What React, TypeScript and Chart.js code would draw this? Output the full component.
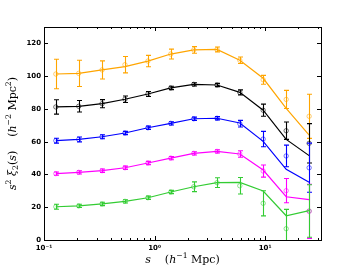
import React, { useEffect, useRef } from "react";
import { Chart, registerables } from "chart.js";

Chart.register(...registerables);

// separations s (h^-1 Mpc)
const sValues = [0.128, 0.206, 0.335, 0.54, 0.87, 1.4, 2.26, 3.67, 5.9, 9.6, 15.5, 25];

const orangeModel = [101.3, 101.7, 103.8, 105.8, 109.2, 113.5, 116.0, 116.3, 109.7, 98.7, 80.4, 64.0];
const orangeData = [101.3, 101.7, 103.8, 107.0, 109.2, 113.5, 116.0, 116.3, 109.7, 97.8, 85.8, 75.5];
const orangeErr = [9, 8, 5.5, 5, 3.5, 3, 2, 1.5, 2, 2.7, 5.5, 13.5];

const blackModel = [81.2, 81.6, 83.2, 85.9, 89.1, 92.8, 95.0, 94.6, 90.1, 79.2, 61.4, 51.5];
const blackData = [81.2, 81.6, 83.2, 85.9, 89.1, 92.8, 95.0, 94.6, 90.1, 79.2, 66.7, 59.0];
const blackErr = [4.4, 3.5, 2.5, 2, 1.5, 1, 1, 1, 1.5, 3.7, 5.3, 12];

const blueModel = [60.6, 61.4, 63.0, 65.3, 68.5, 71.2, 74.0, 74.3, 71.4, 60.2, 43.1, 35.2];
const blueData = [60.6, 61.4, 63.0, 65.3, 68.5, 71.2, 74.0, 74.3, 71.0, 61.6, 51.3, 44.1];
const blueErr = [1.5, 1.5, 1.2, 1, 1, 1, 1, 1, 2, 4.7, 6.6, 15];

const magentaModel = [40.5, 41.3, 42.3, 44.1, 47.0, 50.0, 52.9, 54.1, 52.5, 42.7, 26.4, 24.6];
const magentaData = [40.5, 41.3, 42.3, 44.1, 47.0, 50.0, 52.9, 54.1, 52.5, 42.1, 30.1, 17.5];
const magentaErr = [1, 1, 1, 1, 1, 1, 1, 1, 2, 3.7, 7.4, 16.5];

const greenModel = [20.3, 20.8, 22.0, 23.6, 25.8, 29.3, 32.5, 35.0, 35.2, 29.9, 14.8, 17.9];
const greenData = [20.3, 20.8, 22.0, 23.6, 25.8, 29.3, 32.5, 35.0, 33.1, 22.4, 6.9, 17.7];
const greenErr = [1.5, 1, 1, 1, 1, 1, 3, 3, 5, 7.7, 11.8, 16];

const yTicks = [0, 20, 40, 60, 80, 100, 120];
const xMajor = [0.1, 1, 10];
const xTickLabels = ["10⁻¹", "10⁰", "10¹"];
const xMinor = [0.2, 0.3, 0.4, 0.5, 0.6, 0.7, 0.8, 0.9, 2, 3, 4, 5, 6, 7, 8, 9, 20, 30];

const series = [
  { color: "#FFA500", fade: "rgba(255,165,0,0.55)", model: orangeModel, data: orangeData, err: orangeErr },
  { color: "#000000", fade: "rgba(0,0,0,0.55)", model: blackModel, data: blackData, err: blackErr },
  { color: "#0000FF", fade: "rgba(0,0,255,0.55)", model: blueModel, data: blueData, err: blueErr },
  { color: "#FF00FF", fade: "rgba(255,0,255,0.55)", model: magentaModel, data: magentaData, err: magentaErr },
  { color: "#33CC33", fade: "rgba(51,204,51,0.55)", model: greenModel, data: greenData, err: greenErr },
];

type Seg = { t: string; it?: boolean; sup?: boolean; sub?: boolean };

function drawSegs(ctx: CanvasRenderingContext2D, segs: Seg[], size: number, family: string) {
  const fontFor = (s: Seg) => {
    const sz = s.sup || s.sub ? size * 0.7 : size;
    return `${s.it ? "italic " : ""}${sz}px ${family}`;
  };
  let total = 0;
  const widths = segs.map((s) => {
    ctx.font = fontFor(s);
    const w = ctx.measureText(s.t).width;
    total += w;
    return w;
  });
  let x = -total / 2;
  ctx.textBaseline = "middle";
  ctx.textAlign = "left";
  segs.forEach((s, i) => {
    ctx.font = fontFor(s);
    const dy = s.sup ? -size * 0.38 : s.sub ? size * 0.28 : 0;
    ctx.fillText(s.t, x, dy);
    x += widths[i];
  });
}

const framePlugin = {
  id: "frameAndErrors",
  afterDatasetsDraw(chart: any) {
    const { ctx, chartArea: a, scales } = chart;
    const xs = scales.x;
    const ys = scales.y;
    // error bars
    ctx.save();
    ctx.beginPath();
    ctx.rect(a.left, a.top, a.right - a.left, a.bottom - a.top);
    ctx.clip();
    chart.data.datasets.forEach((ds: any) => {
      if (!ds.errs) return;
      ctx.strokeStyle = ds.errColor;
      ctx.lineWidth = 1.1;
      ds.data.forEach((p: any, i: number) => {
        const e = ds.errs[i];
        const px = Math.round(xs.getPixelForValue(p.x)) + 0.5;
        const pt = ys.getPixelForValue(p.y + e);
        const pb = ys.getPixelForValue(p.y - e);
        ctx.beginPath();
        ctx.moveTo(px, pt);
        ctx.lineTo(px, pb);
        ctx.moveTo(px - 2.5, pt);
        ctx.lineTo(px + 2.5, pt);
        ctx.moveTo(px - 2.5, pb);
        ctx.lineTo(px + 2.5, pb);
        ctx.stroke();
      });
    });
    ctx.restore();

    // frame and ticks
    ctx.save();
    ctx.strokeStyle = "#000";
    ctx.lineWidth = 1;
    ctx.strokeRect(Math.round(a.left) + 0.5, Math.round(a.top) + 0.5, Math.round(a.right - a.left), Math.round(a.bottom - a.top));
    ctx.beginPath();
    yTicks.forEach((v) => {
      const py = Math.round(ys.getPixelForValue(v)) + 0.5;
      ctx.moveTo(a.left, py);
      ctx.lineTo(a.left + 4, py);
      ctx.moveTo(a.right, py);
      ctx.lineTo(a.right - 4, py);
    });
    xMajor.forEach((v) => {
      const px = Math.round(xs.getPixelForValue(v)) + 0.5;
      ctx.moveTo(px, a.bottom);
      ctx.lineTo(px, a.bottom - 4);
      ctx.moveTo(px, a.top);
      ctx.lineTo(px, a.top + 4);
    });
    xMinor.forEach((v) => {
      const px = Math.round(xs.getPixelForValue(v)) + 0.5;
      if (px > a.right) return;
      ctx.moveTo(px, a.bottom);
      ctx.lineTo(px, a.bottom - 2);
      ctx.moveTo(px, a.top);
      ctx.lineTo(px, a.top + 2);
    });
    ctx.stroke();
    ctx.restore();

    // axis titles
    ctx.save();
    ctx.fillStyle = "#000";
    const fam = "'DejaVu Serif'";
    ctx.translate((a.left + a.right) / 2, 260);
    drawSegs(
      ctx,
      [
        { t: "s", it: true },
        { t: "    (" },
        { t: "h", it: true },
        { t: "−1", sup: true },
        { t: " Mpc)" },
      ],
      11,
      fam
    );
    ctx.restore();
    ctx.save();
    ctx.fillStyle = "#000";
    ctx.translate(13, (a.top + a.bottom) / 2);
    ctx.rotate(-Math.PI / 2);
    drawSegs(
      ctx,
      [
        { t: "s", it: true },
        { t: "2", sup: true },
        { t: " " },
        { t: "ξ", it: true },
        { t: "2", sub: true },
        { t: "(" },
        { t: "s", it: true },
        { t: ")    (" },
        { t: "h", it: true },
        { t: "−2", sup: true },
        { t: " Mpc" },
        { t: "2", sup: true },
        { t: ")" },
      ],
      11,
      fam
    );
    ctx.restore();
  },
};

export default function App() {
  const ref = useRef<HTMLCanvasElement | null>(null);
  useEffect(() => {
    if (!ref.current) return;
    const datasets: any[] = [];
    series.forEach((s) => {
      datasets.push({
        data: sValues.map((x, i) => ({ x, y: s.model[i] })),
        borderColor: s.color,
        borderWidth: 1.2,
        pointRadius: 0,
        fill: false,
        tension: 0,
      });
    });
    series.forEach((s) => {
      datasets.push({
        data: sValues.map((x, i) => ({ x, y: s.data[i] })),
        showLine: false,
        borderColor: s.fade,
        backgroundColor: "rgba(0,0,0,0)",
        pointRadius: 2.2,
        pointBorderWidth: 1,
        errs: s.err,
        errColor: s.color,
      });
    });
    const chart = new Chart(ref.current, {
      type: "line",
      data: { datasets },
      options: {
        animation: false,
        responsive: false,
        devicePixelRatio: 1,
        layout: { padding: { left: 0, right: 36, top: 27, bottom: 0 } },
        plugins: { legend: { display: false }, tooltip: { enabled: false } },
        scales: {
          x: {
            type: "logarithmic",
            min: 0.1,
            max: 32,
            grid: { display: false, drawTicks: false },
            border: { display: false },
            afterBuildTicks: (sc: any) => {
              sc.ticks = xMajor.map((v) => ({ value: v }));
            },
            afterFit: (sc: any) => {
              sc.height = 28;
            },
            ticks: {
              autoSkip: false,
              maxRotation: 0,
              padding: 4,
              color: "#000",
              font: { family: "'DejaVu Sans'", size: 7, weight: "bold" },
              callback: (v: any) => {
                const i = xMajor.indexOf(Number(v));
                return i >= 0 ? xTickLabels[i] : "";
              },
            },
          },
          y: {
            type: "linear",
            min: 0,
            max: 130,
            grid: { display: false, drawTicks: false },
            border: { display: false },
            afterBuildTicks: (sc: any) => {
              sc.ticks = yTicks.map((v) => ({ value: v }));
            },
            afterFit: (sc: any) => {
              sc.width = 44;
            },
            ticks: {
              padding: 3,
              color: "#000",
              font: { family: "'DejaVu Sans'", size: 7, weight: "bold" },
            },
          },
        },
      } as any,
      plugins: [framePlugin],
    });
    return () => chart.destroy();
  }, []);
  return (
    <div style={{ position: "fixed", left: 0, top: 0, width: 357, height: 268, background: "#fff" }}>
      <canvas ref={ref} width={357} height={268} />
    </div>
  );
}
